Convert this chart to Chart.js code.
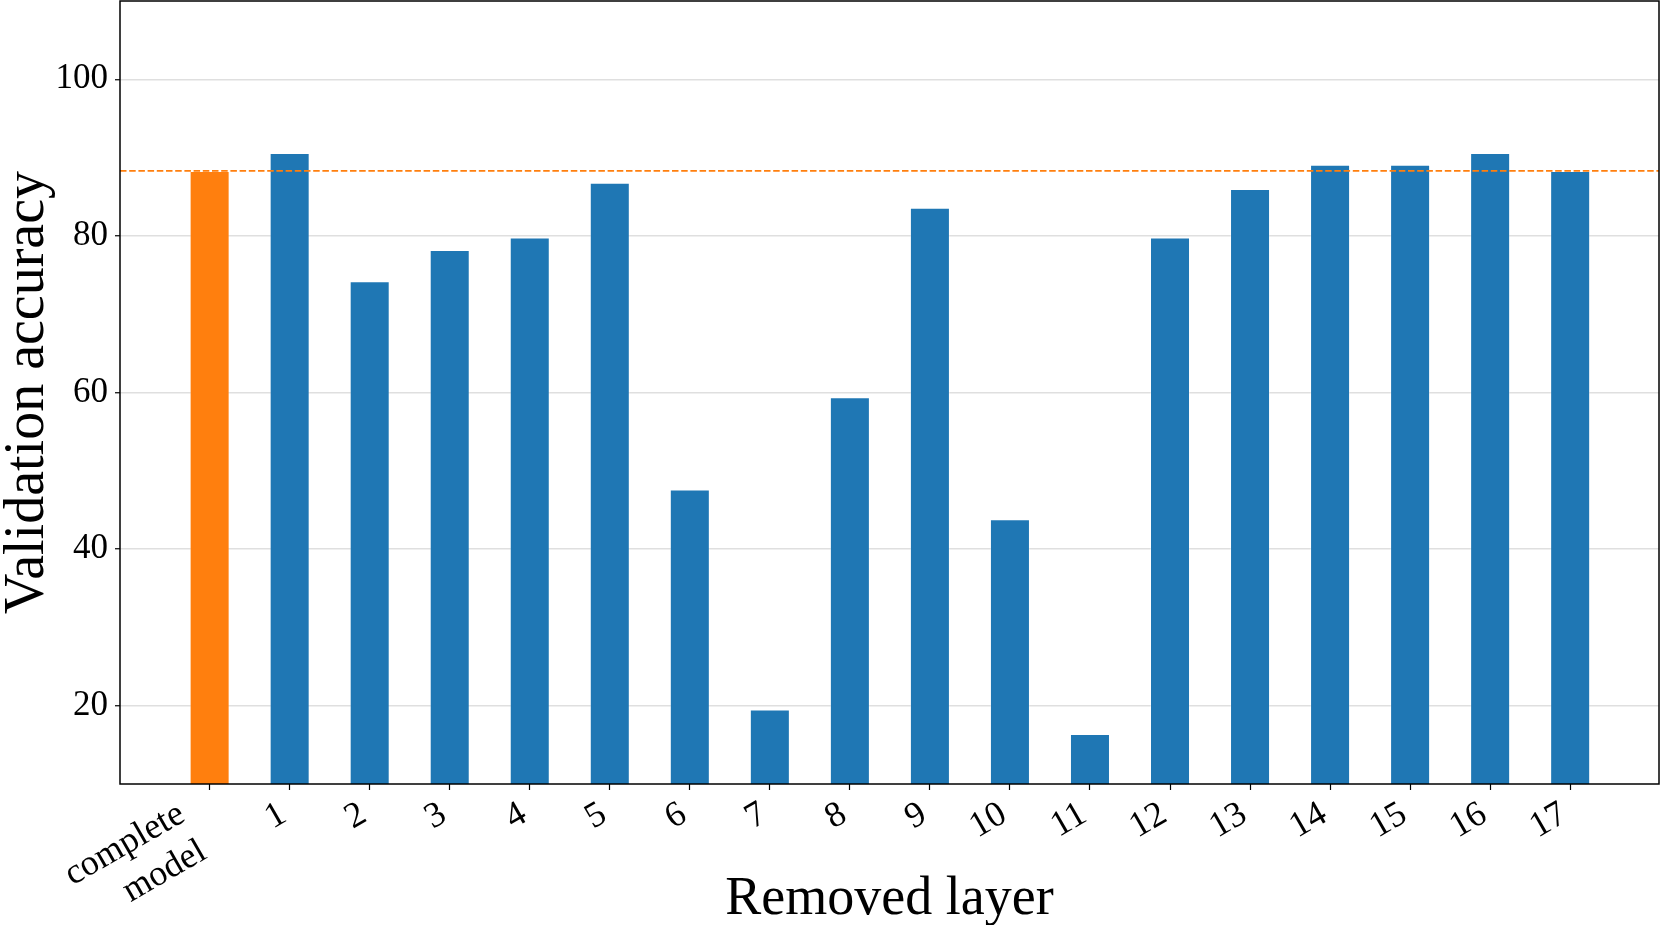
<!DOCTYPE html>
<html><head><meta charset="utf-8">
<script src="https://cdn.jsdelivr.net/npm/chart.js@4.4.1/dist/chart.umd.min.js"></script>
<style>html,body{margin:0;padding:0;background:#fff;}#wrap{width:1661px;height:925px;}</style>
</head><body><div id="wrap"><canvas id="c" width="1661" height="925"></canvas></div>
<script>
const categories = [["complete", "model"], "1", "2", "3", "4", "5", "6", "7", "8", "9", "10", "11", "12", "13", "14", "15", "16", "17"];
const accuracy = [88.3, 90.6, 74.2, 78.2, 79.8, 86.8, 47.6, 19.5, 59.4, 83.6, 43.8, 16.4, 79.8, 86.0, 89.1, 89.1, 90.6, 88.3];
const yTicks = [20, 40, 60, 80, 100];
const xAxisTitle = "Removed layer";
const yAxisTitle = "Validation accuracy";

const FAMILY = "'Liberation Serif', 'DejaVu Serif', serif";
const ORANGE = '#ff7f0e', BLUE = '#1f77b4';
const X_MIN = -1.12, X_MAX = 18.11;
const baseline = accuracy[0];

const boxPlugin = {
  id: 'box',
  beforeDraw(chart) {
    const ctx = chart.ctx; ctx.save(); ctx.fillStyle = '#fff';
    ctx.fillRect(0, 0, chart.width, chart.height); ctx.restore();
  },
  afterDraw(chart) {
    const {ctx, chartArea: a} = chart;
    ctx.save(); ctx.strokeStyle = '#000'; ctx.lineWidth = 1.5;
    ctx.strokeRect(a.left, a.top, a.right - a.left, a.bottom - a.top);
    ctx.restore();
  }
};

function zeroPad(s) { s.paddingTop = 0; s.paddingBottom = 0; s.paddingLeft = 0; s.paddingRight = 0; }

// Matplotlib-style right alignment of rotated multi-line labels:
// the bottom-right corner of the whole block sits under the tick.
function patchLabels(s) {
  if (s._mplPatched) return;
  s._mplPatched = true;
  const orig = s._computeLabelItems;
  s._computeLabelItems = function (ca) {
    const items = orig.call(this, ca);
    const rot = Math.PI / 6;
    items.forEach(it => {
      if (Array.isArray(it.label) && it.label.length > 1) {
        it.options.translation[0] -= (it.label.length - 1) * it.font.lineHeight * Math.sin(rot);
      }
    });
    return items;
  };
}

new Chart(document.getElementById('c'), {
  type: 'bar',
  data: {
    datasets: [
      {
        type: 'line',
        data: [{x: X_MIN, y: baseline}, {x: X_MAX, y: baseline}],
        borderColor: ORANGE, borderWidth: 1.8, borderDash: [6.5, 2.7],
        pointRadius: 0, fill: false
      },
      {
        type: 'bar',
        data: accuracy.map((v, i) => ({x: i, y: v})),
        backgroundColor: accuracy.map((v, i) => i === 0 ? ORANGE : BLUE),
        borderColor: 'rgba(255,255,255,0.3)', borderWidth: 1,
        categoryPercentage: 1.0, barPercentage: 0.5
      }
    ]
  },
  options: {
    responsive: false, devicePixelRatio: 1, animation: false,
    layout: {padding: {top: 1, right: 2, left: 0, bottom: 0}},
    plugins: {legend: {display: false}, tooltip: {enabled: false}},
    scales: {
      x: {
        type: 'linear', min: X_MIN, max: X_MAX, offset: false,
        afterBuildTicks: s => { s.ticks = categories.map((_, i) => ({value: i})); },
        afterFit: s => { s.height = 141; zeroPad(s); patchLabels(s); },
        ticks: {
          callback: v => categories[v], autoSkip: false,
          minRotation: 30, maxRotation: 30, padding: 3, labelOffset: -6,
          font: {family: FAMILY, size: 36}, color: '#000'
        },
        grid: {offset: false, drawOnChartArea: false, drawTicks: true, tickLength: 6, tickColor: '#000', tickWidth: 1.2},
        border: {display: false},
        title: {display: true, text: xAxisTitle, color: '#000',
          font: {family: FAMILY, size: 54, lineHeight: 1}, padding: {top: 0, bottom: -2}}
      },
      y: {
        min: 10, max: 110, z: 1,
        afterBuildTicks: s => { s.ticks = yTicks.map(v => ({value: v})); },
        afterFit: s => { s.width = 120; zeroPad(s); },
        ticks: {font: {family: FAMILY, size: 35}, color: '#000', padding: 7},
        grid: {color: 'rgba(176,176,176,0.4)', lineWidth: 1.5, drawTicks: true, tickLength: 5, tickColor: '#000', tickWidth: 1.2},
        border: {display: false},
        title: {display: true, text: yAxisTitle, color: '#000',
          font: {family: FAMILY, size: 56, lineHeight: 1}, padding: {top: 0, bottom: 0}}
      }
    }
  },
  plugins: [boxPlugin]
});
</script></body></html>
